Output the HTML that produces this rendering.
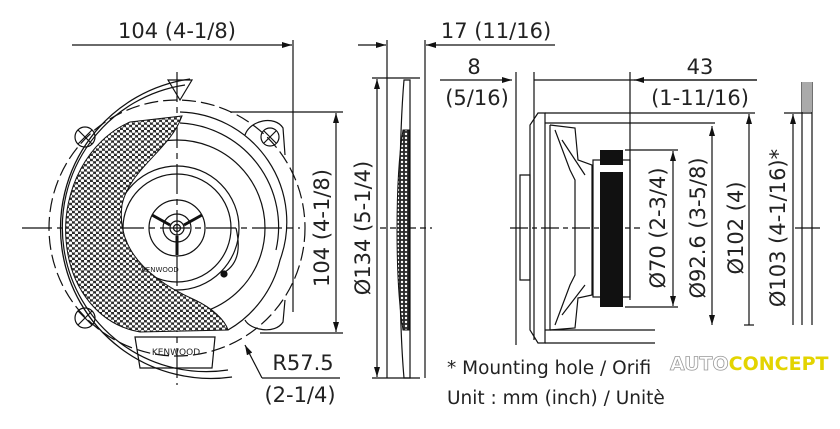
<!DOCTYPE html>
<html><head><meta charset="utf-8"><style>
html,body{margin:0;padding:0;background:#fff;}
svg{display:block;}
text{font-family:"DejaVu Sans","Liberation Sans",sans-serif;fill:#222;}
</style></head><body>
<svg width="840" height="429" viewBox="0 0 840 429" xmlns="http://www.w3.org/2000/svg">
<defs>
<pattern id="mesh" width="6" height="5.2" patternUnits="userSpaceOnUse">
<rect width="6" height="5.2" fill="#2a2a2a"/>
<circle cx="1.5" cy="1.3" r="1.7" fill="#fff"/>
<circle cx="4.5" cy="3.9" r="1.7" fill="#fff"/>
</pattern>
<pattern id="mesh2" width="4" height="4" patternUnits="userSpaceOnUse">
<rect width="4" height="4" fill="#2a2a2a"/>
<circle cx="2" cy="2" r="1.2" fill="#fff"/>
</pattern>
<marker id="ar" viewBox="0 0 10 6" refX="10" refY="3" markerWidth="10" markerHeight="6" orient="auto" markerUnits="userSpaceOnUse">
<path d="M0,0 L10,3 L0,6 Z" fill="#111"/>
</marker>
</defs>
<g stroke="#111" fill="none" stroke-width="1.2">
<line x1="72" y1="45" x2="292" y2="45" marker-end="url(#ar)"/>
<line x1="293" y1="40" x2="293" y2="312"/>
<path d="M190,79 A150,150 0 1 0 232,377" stroke-width="1.3"/>
<path d="M185,85 A143,143 0 1 0 228,370"/>
<circle cx="177" cy="228" r="128" stroke-dasharray="14,5"/>
<path d="M180,112 A110,110 0 0 1 280,260 A110,110 0 0 1 228,330"/>
<path d="M180,123 A104,104 0 0 1 276,250"/>
<circle cx="177" cy="228" r="88"/>
<circle cx="177" cy="228" r="62"/>
<circle cx="177" cy="228" r="54"/>
<circle cx="177" cy="228" r="28"/>
<circle cx="177" cy="228" r="14"/>
<circle cx="177" cy="228" r="7"/>
<circle cx="177" cy="228" r="3.5"/>
<path d="M152,215 L170,225 M202,215 L184,225 M177,236 L177,255" stroke-width="3"/>
<path d="M236,228 C240,245 240,262 225,272"/>
<circle cx="224" cy="274" r="3" fill="#111"/>
<path d="M168,80 L192,80 L180,100 Z"/>
<circle cx="85" cy="137" r="10"/><path d="M78,130 L92,144 M92,130 L78,144"/>
<circle cx="85" cy="318" r="10"/><path d="M78,311 L92,325 M92,311 L78,325"/>
<circle cx="270" cy="137" r="9"/><path d="M264,131 L276,143 M276,131 L264,143"/>
<path d="M245,135 C250,120 275,115 283,128 L285,155"/>
<path d="M245,320 C250,330 275,335 283,322 L285,300"/>
<path d="M135,337 L215,337 L212,368 L140,368 Z"/>
<line x1="22" y1="228" x2="300" y2="228" stroke-dasharray="30,5,6,5"/>
<line x1="177" y1="72" x2="177" y2="385" stroke-dasharray="30,5,6,5"/>
</g>
<path d="M182,116 C170,150 130,168 122,205 C116,250 150,280 195,300 C212,308 225,320 228,330 L140,332 C100,325 70,290 66,240 C62,190 88,140 130,122 Z" fill="url(#mesh)" stroke="#111"/>
<text x="160" y="272" font-size="7" text-anchor="middle">KENWOOD</text>
<text x="176" y="355" font-size="9" text-anchor="middle">KENWOOD</text>
<g stroke="#111" fill="none" stroke-width="1.2">
<line x1="262" y1="378" x2="245" y2="345" marker-end="url(#ar)"/>
<line x1="262" y1="378" x2="340" y2="378"/>
<line x1="230" y1="112" x2="343" y2="112"/>
<line x1="260" y1="333" x2="343" y2="333"/>
<line x1="336" y1="230" x2="336" y2="113" marker-end="url(#ar)"/>
<line x1="336" y1="230" x2="336" y2="332" marker-end="url(#ar)"/>
<line x1="372" y1="78" x2="420" y2="78"/>
<line x1="372" y1="378" x2="420" y2="378"/>
<line x1="377" y1="230" x2="377" y2="79" marker-end="url(#ar)"/>
<line x1="377" y1="230" x2="377" y2="377" marker-end="url(#ar)"/>
<line x1="358" y1="45" x2="386" y2="45" marker-end="url(#ar)"/>
<line x1="555" y1="45" x2="426" y2="45" marker-end="url(#ar)"/>
<line x1="387" y1="40" x2="387" y2="378"/>
<line x1="425" y1="40" x2="425" y2="378"/>
<path d="M404,80 C398,150 398,310 404,378 L410,378 L410,80 Z"/>
<line x1="380" y1="228" x2="432" y2="228" stroke-dasharray="6,4"/>
</g>
<path d="M403,130 C395,180 395,280 403,330 L409,330 L409,130 Z" fill="url(#mesh2)" stroke="#111"/>
<g stroke="#111" fill="none" stroke-width="1.2">
<line x1="440" y1="80" x2="512" y2="80" marker-end="url(#ar)"/>
<line x1="516" y1="72" x2="516" y2="345"/>
<line x1="534" y1="72" x2="534" y2="340"/>
<line x1="534" y1="80" x2="757" y2="80"/>
<line x1="757" y1="80" x2="634" y2="80" marker-end="url(#ar)"/>
<line x1="630" y1="72" x2="630" y2="300"/>
<path d="M545,113 L538,113 L530,125 L530,330 L538,343 L545,343 Z"/>
<line x1="545" y1="113" x2="755" y2="113"/>
<line x1="545" y1="123" x2="715" y2="123"/>
<line x1="545" y1="330" x2="655" y2="330"/>
<line x1="545" y1="343" x2="655" y2="343"/>
<line x1="550" y1="125" x2="550" y2="330"/>
<path d="M520,175 L530,175 L530,280 L520,280 Z"/>
<path d="M550,125 L575,128 L578,160 L592,165 L592,295 L578,298 L575,328 L550,330"/>
<path d="M555,130 L570,170 L575,180 L575,275 L570,285 L555,325"/>
<path d="M562,140 L585,175 M562,315 L585,285"/>
<rect x="593" y="160" width="37" height="137"/>
<line x1="510" y1="228" x2="640" y2="228" stroke-dasharray="18,4,5,4"/>
<line x1="625" y1="150" x2="678" y2="150"/>
<line x1="625" y1="307" x2="678" y2="307"/>
<line x1="673" y1="228" x2="673" y2="151" marker-end="url(#ar)"/>
<line x1="673" y1="228" x2="673" y2="306" marker-end="url(#ar)"/>
<line x1="712" y1="228" x2="712" y2="126" marker-end="url(#ar)"/>
<line x1="712" y1="228" x2="712" y2="325" marker-end="url(#ar)"/>
<line x1="749" y1="228" x2="749" y2="114" marker-end="url(#ar)"/>
<line x1="749" y1="228" x2="749" y2="325"/>
<line x1="744" y1="325" x2="754" y2="325"/>
<line x1="784" y1="113" x2="812" y2="113"/>
<line x1="793" y1="228" x2="793" y2="114" marker-end="url(#ar)"/>
<line x1="793" y1="228" x2="793" y2="325"/>
<line x1="802" y1="82" x2="802" y2="325"/>
<line x1="812" y1="82" x2="812" y2="325"/>
<line x1="795" y1="228" x2="820" y2="228"/>
</g>
<rect x="600" y="150" width="23" height="157" fill="#111"/>
<rect x="600" y="165" width="23" height="7" fill="#fff"/>
<rect x="802" y="82" width="10" height="30" fill="#aaa"/>
<text x="177" y="38" font-size="21" text-anchor="middle">104 (4-1/8)</text>
<text x="496" y="38" font-size="21" text-anchor="middle">17 (11/16)</text>
<text x="474" y="74" font-size="21" text-anchor="middle">8</text>
<text x="477" y="105" font-size="21" text-anchor="middle">(5/16)</text>
<text x="700" y="74" font-size="21" text-anchor="middle">43</text>
<text x="700" y="105" font-size="21" text-anchor="middle">(1-11/16)</text>
<text x="303" y="370" font-size="21" text-anchor="middle">R57.5</text>
<text x="300" y="402" font-size="21" text-anchor="middle">(2-1/4)</text>
<text transform="translate(329,228) rotate(-90)" font-size="21" text-anchor="middle">104 (4-1/8)</text>
<text transform="translate(370,228) rotate(-90)" font-size="21" text-anchor="middle">Ø134 (5-1/4)</text>
<text transform="translate(665,228) rotate(-90)" font-size="21" text-anchor="middle">Ø70 (2-3/4)</text>
<text transform="translate(705,228) rotate(-90)" font-size="21" text-anchor="middle">Ø92.6 (3-5/8)</text>
<text transform="translate(743,228) rotate(-90)" font-size="21" text-anchor="middle">Ø102 (4)</text>
<text transform="translate(785,228) rotate(-90)" font-size="21" text-anchor="middle">Ø103 (4-1/16)*</text>
<text x="447" y="374" font-size="18.5">* Mounting hole / Orifi</text>
<text x="447" y="404" font-size="18.5">Unit : mm (inch) / Unitè</text>
<text x="670" y="370" font-size="19" font-weight="bold" font-family="Liberation Sans,sans-serif"><tspan fill="#fff" stroke="#999" stroke-width="0.8">AUTO</tspan><tspan fill="#e3d400">CONCEPT</tspan></text>
</svg>
</body></html>
